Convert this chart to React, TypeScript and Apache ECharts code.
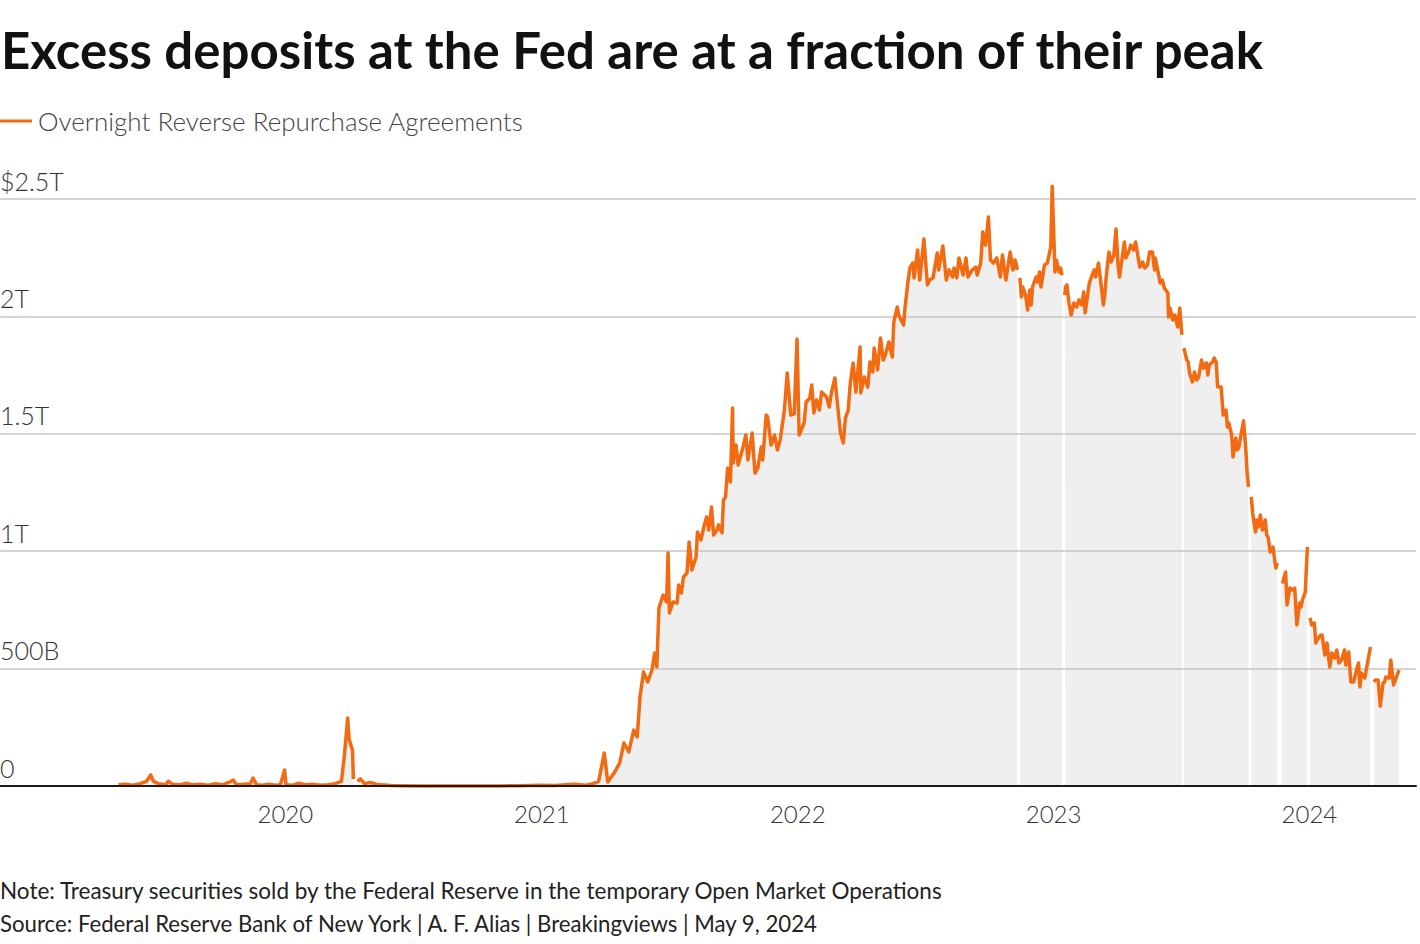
import React, { useEffect, useRef } from "react";
import * as echarts from "echarts";

const TITLE = "Excess deposits at the Fed are at a fraction of their peak";
const SERIES_NAME = "Overnight Reverse Repurchase Agreements";
const NOTE = "Note: Treasury securities sold by the Federal Reserve in the temporary Open Market Operations";
const SOURCE = "Source: Federal Reserve Bank of New York | A. F. Alias | Breakingviews | May 9, 2024";

const xTickYears = [2020, 2021, 2022, 2023, 2024];
const yTickValues = [0, 500, 1000, 1500, 2000, 2500];
const yTickLabels = ["0", "500B", "1T", "1.5T", "2T", "$2.5T"];
const xMin = "2018-11-20";
const xMax = "2024-06-01";

// ON RRP volume, billions of dollars (null = no data)
const dates2019_2020: string[] = [
  "2019-05-08","2019-05-18","2019-05-29","2019-06-08","2019-06-17","2019-06-23","2019-06-27","2019-07-04","2019-07-14","2019-07-18",
  "2019-07-24","2019-08-04","2019-08-13","2019-08-21","2019-09-02","2019-09-13","2019-09-23","2019-10-03","2019-10-12","2019-10-19",
  "2019-10-23","2019-11-04","2019-11-12","2019-11-16","2019-11-21","2019-11-29","2019-12-08","2019-12-18","2019-12-25","2019-12-31",
  "2020-01-02","2020-01-11","2020-01-20","2020-01-30","2020-02-09","2020-02-20","2020-03-02","2020-03-12","2020-03-21","2020-03-25",
  "2020-03-30","2020-04-01","2020-04-06","2020-04-07","2020-04-09","2020-04-13","2020-04-17","2020-04-23","2020-05-01","2020-05-10",
  "2020-05-18","2020-05-30","2020-06-13","2020-07-12","2020-08-23","2020-10-05","2020-11-03","2020-12-01","2020-12-30",
];
const values2019_2020: (number | null)[] = [
  5,8,3,10,20,47,20,10,5,20,
  8,5,12,5,8,3,10,5,15,25,
  5,8,10,34,5,3,8,3,5,68,
  5,3,12,5,8,3,5,10,20,120,
  290,200,150,30,null,20,30,10,15,8,
  5,2,1,0.5,0.3,0.2,0.3,1,3,
];

const dates2021: string[] = [
  "2021-01-21","2021-02-04","2021-02-18","2021-03-05","2021-03-15","2021-03-23","2021-03-31","2021-04-05","2021-04-14","2021-04-22",
  "2021-04-28","2021-05-05","2021-05-12","2021-05-17","2021-05-21","2021-05-26","2021-06-01","2021-06-07","2021-06-11","2021-06-14",
  "2021-06-17","2021-06-23","2021-06-28","2021-06-30","2021-07-02","2021-07-07","2021-07-13","2021-07-15","2021-07-19","2021-07-22",
  "2021-07-27","2021-07-30","2021-08-03","2021-08-09","2021-08-11","2021-08-16","2021-08-20","2021-08-24","2021-08-27","2021-08-31",
  "2021-09-03","2021-09-08","2021-09-10","2021-09-15","2021-09-17","2021-09-20","2021-09-23","2021-09-27","2021-09-30","2021-10-01",
  "2021-10-05","2021-10-08","2021-10-15","2021-10-19","2021-10-22","2021-10-28","2021-11-01","2021-11-05","2021-11-10","2021-11-12",
  "2021-11-17","2021-11-19","2021-11-24","2021-11-29","2021-12-03","2021-12-07","2021-12-13","2021-12-17","2021-12-22","2021-12-27",
  "2021-12-31",
];
const values2021: (number | null)[] = [
  2,5,8,3,10,20,140,17,55,98,
  183,145,238,209,379,486,443,494,566,507,
  758,813,784,992,737,784,779,856,822,890,
  907,1039,920,975,1082,1048,1103,1146,1090,1188,
  1069,1090,1112,1078,1218,1231,1354,1295,1610,1376,
  1452,1367,1444,1495,1388,1503,1333,1354,1444,1388,
  1580,1572,1452,1495,1431,1474,1601,1759,1580,1585,
  1904,
];

const dates2022: string[] = [
  "2022-01-03","2022-01-10","2022-01-13","2022-01-18","2022-01-21","2022-01-24","2022-01-28","2022-02-01","2022-02-04","2022-02-11",
  "2022-02-15","2022-02-18","2022-02-23","2022-02-28","2022-03-03","2022-03-07","2022-03-10","2022-03-14","2022-03-17","2022-03-21",
  "2022-03-25","2022-03-31","2022-04-01","2022-04-06","2022-04-11","2022-04-14","2022-04-18","2022-04-20","2022-04-25","2022-04-29",
  "2022-05-03","2022-05-06","2022-05-11","2022-05-16","2022-05-18","2022-05-23","2022-05-25","2022-06-01","2022-06-03","2022-06-07",
  "2022-06-10","2022-06-14","2022-06-16","2022-06-21","2022-06-24","2022-06-30","2022-07-05","2022-07-08","2022-07-13","2022-07-19",
  "2022-07-21","2022-07-27","2022-08-01","2022-08-05","2022-08-10","2022-08-12","2022-08-16","2022-08-19","2022-08-25","2022-08-29",
  "2022-09-01","2022-09-07","2022-09-12","2022-09-14","2022-09-19","2022-09-22","2022-09-26","2022-09-30","2022-10-03","2022-10-07",
  "2022-10-12","2022-10-17","2022-10-20","2022-10-25","2022-10-31","2022-11-04","2022-11-07","2022-11-09","2022-11-10","2022-11-11",
  "2022-11-14","2022-11-16","2022-11-18","2022-11-22","2022-11-25","2022-11-28","2022-11-30","2022-12-02","2022-12-07","2022-12-09",
  "2022-12-12","2022-12-14","2022-12-19","2022-12-23","2022-12-28","2022-12-30",
];
const values2022: (number | null)[] = [
  1495,1546,1636,1650,1708,1589,1644,1601,1678,1657,
  1614,1674,1738,1589,1503,1461,1567,1601,1716,1802,
  1678,1870,1674,1742,1699,1806,1763,1865,1772,1908,
  1814,1836,1891,1827,1976,2040,2006,1963,2036,2142,
  2206,2227,2164,2283,2155,2330,2134,2155,2164,2270,
  2198,2300,2155,2198,2168,2206,2164,2249,2176,2249,
  2168,2198,2210,2176,2227,2360,2304,2423,2240,2227,
  2249,2168,2262,2155,2274,2198,2240,2220,2198,null,
  2164,2083,2125,2091,2027,2112,2049,2125,2168,2146,
  2189,2125,2219,2227,2296,2554,
];

const dates2023: string[] = [
  "2023-01-03","2023-01-05","2023-01-09","2023-01-11","2023-01-13","2023-01-16","2023-01-17","2023-01-18","2023-01-20","2023-01-23",
  "2023-01-26","2023-01-30","2023-02-03","2023-02-06","2023-02-10","2023-02-13","2023-02-15","2023-02-17","2023-02-21","2023-02-24",
  "2023-02-28","2023-03-02","2023-03-06","2023-03-09","2023-03-13","2023-03-15","2023-03-17","2023-03-21","2023-03-24","2023-03-28",
  "2023-03-31","2023-04-03","2023-04-05","2023-04-10","2023-04-12","2023-04-14","2023-04-18","2023-04-21","2023-04-25","2023-04-28",
  "2023-05-01","2023-05-04","2023-05-08","2023-05-11","2023-05-15","2023-05-18","2023-05-22","2023-05-25","2023-05-26","2023-05-31",
  "2023-06-02","2023-06-05","2023-06-08","2023-06-13","2023-06-14","2023-06-16","2023-06-20","2023-06-23","2023-06-27","2023-06-30",
  "2023-07-03","2023-07-05","2023-07-06","2023-07-10","2023-07-12","2023-07-14","2023-07-18","2023-07-21","2023-07-24","2023-07-27",
  "2023-07-31","2023-08-03","2023-08-07","2023-08-09","2023-08-11","2023-08-16","2023-08-18","2023-08-21","2023-08-23","2023-08-28",
  "2023-08-31","2023-09-04","2023-09-06","2023-09-08","2023-09-12","2023-09-14","2023-09-18","2023-09-20","2023-09-22","2023-09-29",
  "2023-10-02","2023-10-04","2023-10-06","2023-10-09","2023-10-10","2023-10-12","2023-10-16","2023-10-18","2023-10-20","2023-10-23",
  "2023-10-26","2023-10-30","2023-11-01","2023-11-03","2023-11-06","2023-11-10","2023-11-14","2023-11-16","2023-11-20","2023-11-22",
  "2023-11-24","2023-11-28","2023-11-30","2023-12-04","2023-12-08","2023-12-11","2023-12-14","2023-12-18","2023-12-20","2023-12-22",
  "2023-12-26","2023-12-29",
];
const values2023: (number | null)[] = [
  2189,2240,2189,2206,2176,null,2091,2125,2134,2057,
  2006,2057,2040,2070,2049,2104,2015,2057,2142,2168,
  2198,2168,2227,2155,2049,2091,2168,2274,2232,2262,
  2372,2219,2168,2274,2317,2249,2274,2304,2283,2317,
  2262,2210,2232,2206,2219,2274,2274,2198,2249,2176,
  2142,2155,2121,2100,1997,2036,1985,2006,1955,2036,
  1921,null,1865,1814,1806,1759,1721,1763,1729,1742,
  1814,1780,1802,1750,1793,1806,1823,1806,1700,1699,
  1580,1601,1529,1546,1495,1401,1482,1431,1440,1555,
  1444,1337,1274,null,1231,1163,1082,1133,1103,1154,
  1090,1133,1069,1060,997,1018,928,950,null,869,
  869,911,771,843,835,843,686,779,762,792,
  826,1018,
];

const dates2024: string[] = [
  "2024-01-01","2024-01-02","2024-01-04","2024-01-08","2024-01-10","2024-01-12","2024-01-17","2024-01-19","2024-01-23","2024-01-26",
  "2024-01-30","2024-02-02","2024-02-06","2024-02-09","2024-02-12","2024-02-16","2024-02-20","2024-02-22","2024-02-26","2024-02-29",
  "2024-03-04","2024-03-07","2024-03-11","2024-03-13","2024-03-15","2024-03-20","2024-03-22","2024-03-28","2024-04-01","2024-04-02",
  "2024-04-04","2024-04-08","2024-04-11","2024-04-15","2024-04-17","2024-04-19","2024-04-24","2024-04-26","2024-04-30","2024-05-06",
  "2024-05-08",
];
const values2024: (number | null)[] = [
  null,716,686,694,609,622,643,643,558,609,
  507,566,545,579,524,537,579,515,571,443,
  443,481,524,422,481,460,494,592,null,443,
  451,451,340,439,443,464,460,537,430,481,
  494,
];

const FONT = "Lato, 'Source Sans Pro', 'Noto Sans', sans-serif";
const ORANGE = "#f26b12";

export default function App() {
  const ref = useRef<HTMLDivElement>(null);
  useEffect(() => {
    if (!ref.current) return;
    const chart = echarts.init(ref.current, undefined, { renderer: "svg" });
    const dates = [...dates2019_2020, ...dates2021, ...dates2022, ...dates2023, ...dates2024];
    const values = [...values2019_2020, ...values2021, ...values2022, ...values2023, ...values2024];
    const data = dates.map((d, i) => [d, values[i] == null ? "-" : values[i]]);
    const YEAR = 365 * 24 * 3600 * 1000;
    chart.setOption({
      animation: false,
      grid: { left: 0, right: 4, top: 199, bottom: 158, containLabel: false, outerBoundsMode: "none" },
      xAxis: {
        type: "time",
        min: xMin,
        max: xMax,
        minInterval: YEAR,
        maxInterval: YEAR,
        z: 5,
        axisLine: { lineStyle: { color: "#1a1a1a", width: 2 } },
        axisTick: { show: false },
        splitLine: { show: false },
        axisLabel: {
          showMinLabel: false,
          showMaxLabel: false,
          margin: 15,
          color: "#333",
          fontSize: 24,
          fontWeight: 300,
          fontFamily: FONT,
          formatter: (v: number) => {
            const d = new Date(v);
            const y = d.getFullYear();
            return d.getMonth() === 0 && d.getDate() === 1 && xTickYears.includes(y) ? String(y) : "";
          },
        },
      },
      yAxis: {
        type: "value",
        min: 0,
        max: 2500,
        interval: 500,
        z: 3,
        axisLine: { show: false },
        axisTick: { show: false },
        splitLine: { lineStyle: { color: "#c6c6c6", width: 1.5 } },
        axisLabel: {
          inside: true,
          margin: 0,
          align: "left",
          verticalAlign: "bottom",
          padding: [0, 0, 6, 0],
          color: "#333",
          fontSize: 25,
          fontWeight: 300,
          fontFamily: FONT,
          formatter: (v: number) => yTickLabels[yTickValues.indexOf(v)] ?? "",
        },
      },
      series: [
        {
          type: "line",
          data,
          z: 1,
          clip: false,
          symbol: "none",
          connectNulls: false,
          lineStyle: { width: 0, opacity: 0 },
          areaStyle: { color: "#efefef", opacity: 1 },
          silent: true,
        },
        {
          name: SERIES_NAME,
          type: "line",
          data,
          z: 4,
          clip: false,
          symbol: "none",
          connectNulls: false,
          lineStyle: { color: ORANGE, width: 3.5, join: "round" },
        },
      ],
      graphic: [
        {
          type: "text",
          x: 1,
          y: 49,
          style: { text: TITLE, fill: "#111", fontSize: 51, fontWeight: "bold", fontFamily: FONT, verticalAlign: "middle" },
        },
        {
          type: "line",
          shape: { x1: 0, y1: 121, x2: 32, y2: 121 },
          style: { stroke: ORANGE, lineWidth: 3 },
        },
        {
          type: "text",
          x: 38,
          y: 121,
          style: { text: SERIES_NAME, fill: "#444", fontSize: 26, fontWeight: 300, fontFamily: FONT, verticalAlign: "middle" },
        },
        {
          type: "text",
          x: 0,
          y: 890,
          style: { text: NOTE, fill: "#222", fontSize: 22.5, fontFamily: FONT, verticalAlign: "middle" },
        },
        {
          type: "text",
          x: 0,
          y: 923,
          style: { text: SOURCE, fill: "#222", fontSize: 22.2, fontFamily: FONT, verticalAlign: "middle" },
        },
      ],
    });
    return () => chart.dispose();
  }, []);
  return (
    <div
      ref={ref}
      style={{ position: "fixed", left: 0, top: 0, width: 1420, height: 944, background: "#fff" }}
    />
  );
}
